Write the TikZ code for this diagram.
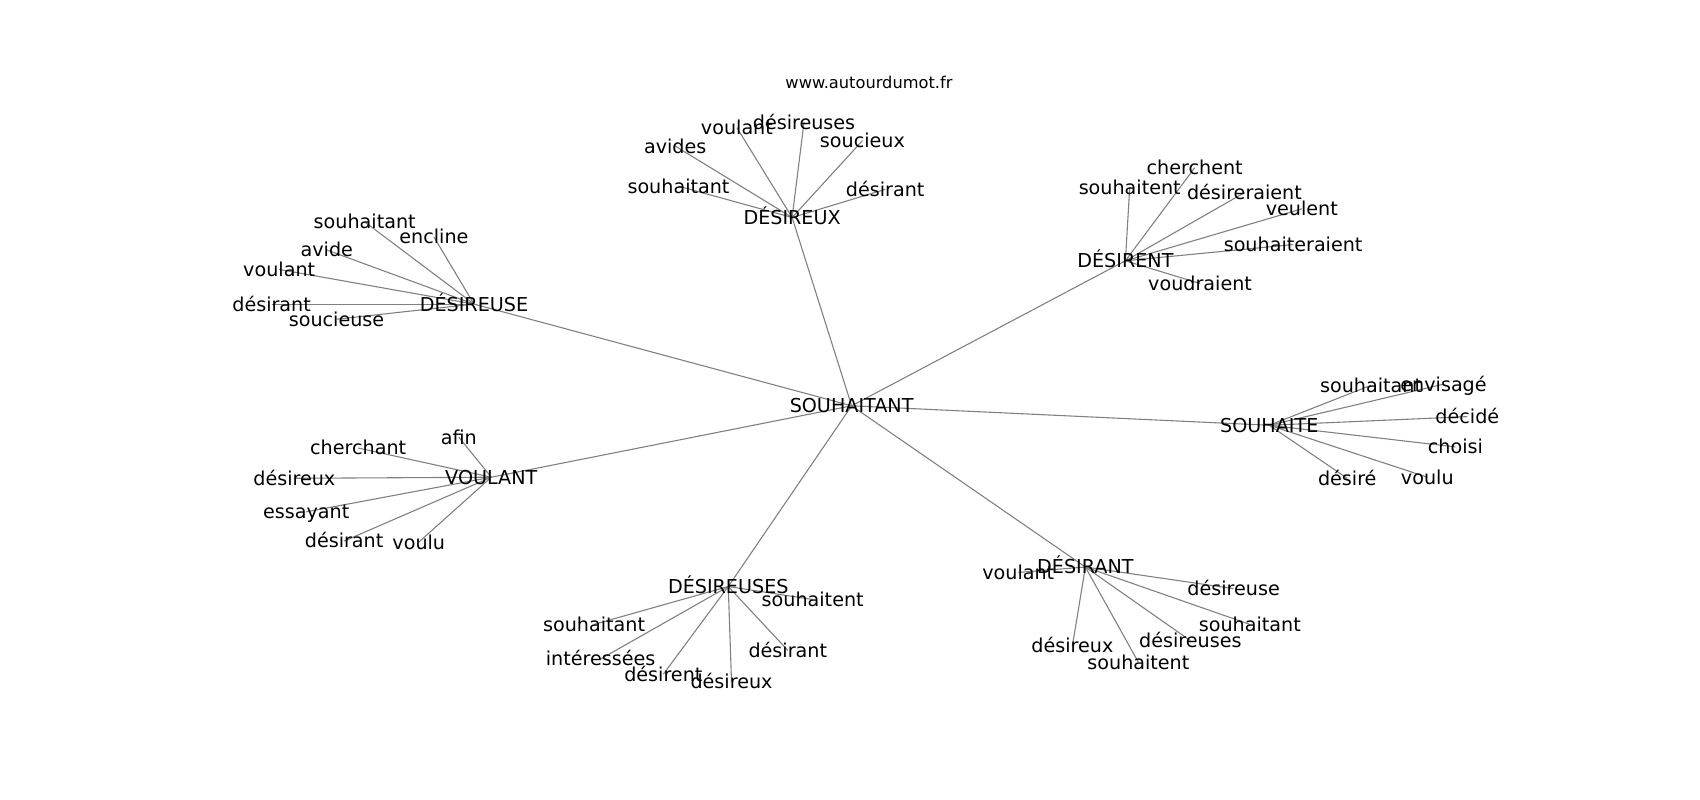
\documentclass[tikz,border=0pt]{standalone}
\usepackage{fontspec}
\setmainfont{DejaVu Sans}
\pgfdeclarelayer{bg}
\pgfsetlayers{bg,main}
\tikzset{
  lbl/.style={font=\fontsize{17.7}{20}\selectfont, inner sep=0pt, text height=12.8pt, text depth=0pt, anchor=center},
  ttl/.style={font=\fontsize{15}{18}\selectfont, inner sep=0pt, text height=10.9pt, text depth=0pt, anchor=center},
  lnk/.style={draw=black!50, line width=1pt}
}
\begin{document}
\begin{tikzpicture}[x=1pt,y=-1pt]
\useasboundingbox (0,0) rectangle (1571,739);
\node[ttl] (title) at (803,76) {www.autourdumot.fr};
\node[lbl] (c) at (787,375) {SOUHAITANT};
% DÉSIREUX
\node[lbl] (h1) at (732,201) {DÉSIREUX};
\node[lbl] (a1) at (681,118) {voulant};
\node[lbl] (a2) at (743,113) {désireuses};
\node[lbl] (a3) at (624,135) {avides};
\node[lbl] (a4) at (797,130) {soucieux};
\node[lbl] (a5) at (627,172) {souhaitant};
\node[lbl] (a6) at (818,175) {désirant};
% DÉSIRENT
\node[lbl] (h2) at (1040,241) {DÉSIRENT};
\node[lbl] (b1) at (1044,173) {souhaitent};
\node[lbl] (b2) at (1104,155) {cherchent};
\node[lbl] (b3) at (1150,178) {désireraient};
\node[lbl] (b4) at (1203,193) {veulent};
\node[lbl] (b5) at (1195,226) {souhaiteraient};
\node[lbl] (b6) at (1109,262) {voudraient};
% DÉSIREUSE
\node[lbl] (h3) at (438,281) {DÉSIREUSE};
\node[lbl] (c1) at (337,205) {souhaitant};
\node[lbl] (c2) at (401,219) {encline};
\node[lbl] (c3) at (302,231) {avide};
\node[lbl] (c4) at (258,249) {voulant};
\node[lbl] (c5) at (251,281) {désirant};
\node[lbl] (c6) at (311,295) {soucieuse};
% SOUHAITE
\node[lbl] (h4) at (1173,393) {SOUHAITE};
\node[lbl] (d1) at (1267,356) {souhaitant};
\node[lbl] (d2) at (1334,355) {envisagé};
\node[lbl] (d3) at (1356,385) {décidé};
\node[lbl] (d4) at (1345,413) {choisi};
\node[lbl] (d5) at (1245,442) {désiré};
\node[lbl] (d6) at (1319,441) {voulu};
% VOULANT
\node[lbl] (h5) at (454,441) {VOULANT};
\node[lbl] (e1) at (424,404) {afin};
\node[lbl] (e2) at (331,414) {cherchant};
\node[lbl] (e3) at (272,442) {désireux};
\node[lbl] (e4) at (283,473) {essayant};
\node[lbl] (e5) at (318,500) {désirant};
\node[lbl] (e6) at (387,501) {voulu};
% DÉSIREUSES
\node[lbl] (h6) at (673,542) {DÉSIREUSES};
\node[lbl] (f1) at (751,554) {souhaitent};
\node[lbl] (f2) at (549,577) {souhaitant};
\node[lbl] (f3) at (555,609) {intéressées};
\node[lbl] (f4) at (728,601) {désirant};
\node[lbl] (f5) at (613,623) {désirent};
\node[lbl] (f6) at (676,630) {désireux};
% DÉSIRANT
\node[lbl] (h7) at (1003,524) {DÉSIRANT};
\node[lbl] (g1) at (941,529) {voulant};
\node[lbl] (g2) at (1140,544) {désireuse};
\node[lbl] (g3) at (1155,577) {souhaitant};
\node[lbl] (g4) at (1100,592) {désireuses};
\node[lbl] (g5) at (991,597) {désireux};
\node[lbl] (g6) at (1052,612) {souhaitent};
\begin{pgfonlayer}{bg}
\fill[white] (0,0) rectangle (1571,739);
\foreach \h in {h1,h2,h3,h4,h5,h6,h7} \draw[lnk] (c.center) -- (\h.center);
\foreach \k in {1,...,6} {
  \draw[lnk] (h1.center) -- (a\k.center);
  \draw[lnk] (h2.center) -- (b\k.center);
  \draw[lnk] (h3.center) -- (c\k.center);
  \draw[lnk] (h4.center) -- (d\k.center);
  \draw[lnk] (h5.center) -- (e\k.center);
  \draw[lnk] (h6.center) -- (f\k.center);
  \draw[lnk] (h7.center) -- (g\k.center);
}
\end{pgfonlayer}
\end{tikzpicture}
\end{document}
